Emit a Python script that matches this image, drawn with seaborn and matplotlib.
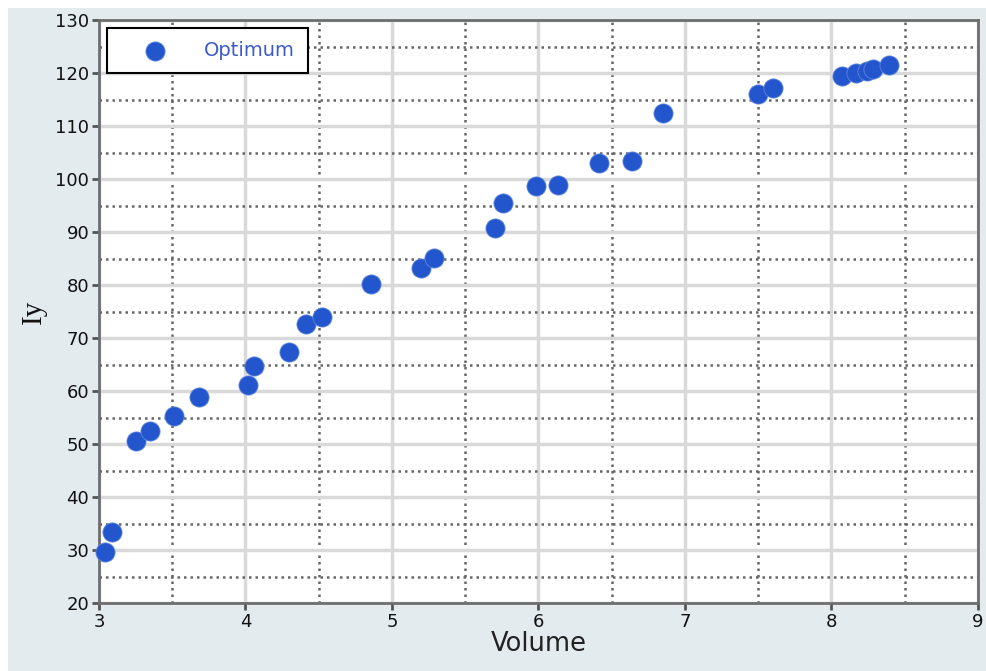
import numpy as np
import pandas as pd
import seaborn as sns
import matplotlib.pyplot as plt
from matplotlib.patches import Rectangle
from matplotlib.ticker import MultipleLocator

# 값은 그림에서 읽은 추정치
volume = [3.04, 3.09, 3.25, 3.35, 3.51, 3.68, 4.02, 4.06, 4.30, 4.41,
          4.52, 4.86, 5.20, 5.29, 5.70, 5.76, 5.98, 6.13, 6.41, 6.64,
          6.85, 7.50, 7.60, 8.07, 8.17, 8.24, 8.28, 8.39]
iy = [29.6, 33.4, 50.6, 52.5, 55.3, 58.9, 61.1, 64.7, 67.4, 72.6,
      74.0, 80.2, 83.2, 85.1, 90.8, 95.5, 98.7, 98.9, 103.0, 103.4,
      112.5, 116.0, 117.2, 119.4, 120.0, 120.4, 120.8, 121.5]
x_ticks = [3, 4, 5, 6, 7, 8, 9]
y_ticks = [20, 30, 40, 50, 60, 70, 80, 90, 100, 110, 120, 130]

df = pd.DataFrame({'Volume': volume, 'Iy': iy})

sns.set_style('white')
plt.rcParams['font.family'] = ['DejaVu Sans']

W, H = 987, 671
fig = plt.figure(figsize=(W / 100, H / 100), dpi=100, facecolor='white')
fig.patches.append(Rectangle((8 / W, 0), 1 - 8 / W, 1 - 8 / H, transform=fig.transFigure,
                             facecolor='#e3ebef', edgecolor='none', zorder=-10))
ax = fig.add_axes([99 / W, (H - 603) / H, (978 - 99) / W, (603 - 20) / H])
ax.set_facecolor('white')

sns.scatterplot(x='Volume', y='Iy', data=df, ax=ax, color='#2356cc', s=190,
                edgecolor='#5d85dd', linewidth=0.6, label='Optimum', zorder=5, clip_on=False)

ax.set_xlim(3, 9)
ax.set_ylim(20, 130)
ax.set_xticks(x_ticks)
ax.set_yticks(y_ticks)
ax.xaxis.set_minor_locator(MultipleLocator(0.5))
ax.yaxis.set_minor_locator(MultipleLocator(5))

# 격자: 주 격자는 회색 실선, 보조 격자는 점선
ax.grid(which='major', color='#d9d9d9', linewidth=2.5, linestyle='-', zorder=0)
ax.grid(which='minor', color='#666666', linewidth=1.8, linestyle=(0, (1, 1.6)), zorder=0)
ax.set_axisbelow(True)

for sp in ax.spines.values():
    sp.set_color('#6e6e6e')
    sp.set_linewidth(2)

ax.tick_params(which='major', direction='out', length=5, width=2, color='#555555',
               labelsize=13, labelcolor='#111111', pad=2, left=True, bottom=True)
ax.tick_params(which='minor', length=0)

ax.set_xlabel('Volume', fontsize=18.5, color='#222222', labelpad=0)
ax.set_ylabel('Iy', fontsize=21, family=['Liberation Serif'], color='#111111', labelpad=6)

leg = ax.legend(loc='upper left', bbox_to_anchor=(8 / 879, 1 - 8 / 583), frameon=True,
                fancybox=False, edgecolor='black', framealpha=1, fontsize=14,
                borderpad=0.68, handletextpad=0.7, borderaxespad=0, markerscale=1.0,
                handlelength=3.6)
leg.get_frame().set_linewidth(1.5)
for t in leg.get_texts():
    t.set_color('#3a5bd0')

fig.savefig('out.png', dpi=100, facecolor=fig.get_facecolor())
